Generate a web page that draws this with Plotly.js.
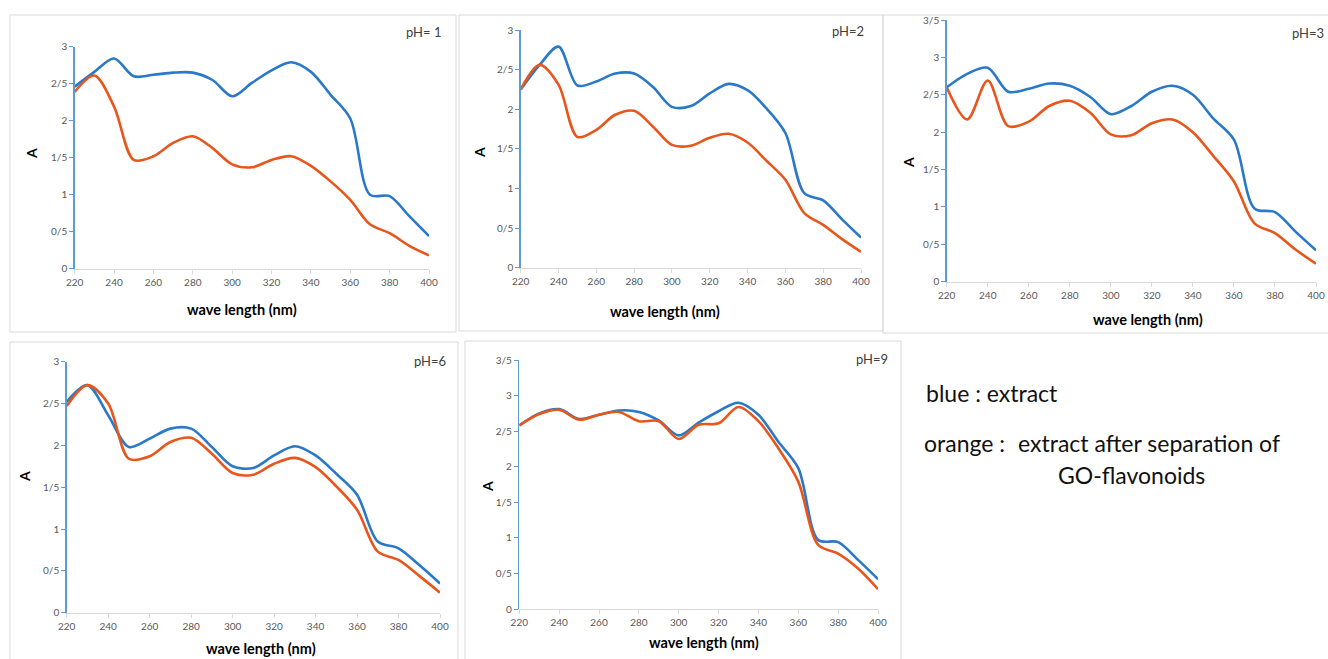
<!DOCTYPE html>
<html>
<head>
<meta charset="utf-8">
<script src="https://cdn.plot.ly/plotly-3.0.1.min.js"></script>
<style>html,body{margin:0;padding:0;background:#fff;}#chart{width:1328px;height:659px;}</style>
</head>
<body>
<div id="chart"></div>
<script>
// ---- data ----
const wavelength = [220,230,240,250,260,270,280,290,300,310,320,330,340,350,360,370,380,390,400];

const ph1Extract   = [2.46,2.66,2.84,2.60,2.62,2.65,2.65,2.55,2.33,2.51,2.68,2.79,2.66,2.35,2.03,1.00,0.98,0.71,0.44];
const ph1Separated = [2.39,2.61,2.19,1.47,1.52,1.70,1.79,1.63,1.41,1.37,1.47,1.52,1.39,1.18,0.93,0.60,0.48,0.31,0.18];

const ph2Extract   = [2.25,2.56,2.79,2.30,2.35,2.45,2.45,2.28,2.03,2.04,2.20,2.32,2.24,2.01,1.70,0.94,0.85,0.61,0.38];
const ph2Separated = [2.25,2.56,2.31,1.65,1.74,1.93,1.98,1.78,1.55,1.54,1.64,1.69,1.58,1.35,1.11,0.69,0.54,0.36,0.20];

const ph3Extract   = [2.60,2.78,2.86,2.54,2.58,2.65,2.62,2.47,2.24,2.35,2.54,2.62,2.50,2.18,1.90,0.98,0.93,0.67,0.42];
const ph3Separated = [2.60,2.17,2.69,2.08,2.14,2.35,2.42,2.26,1.97,1.96,2.12,2.17,2.00,1.68,1.34,0.78,0.65,0.43,0.24];

const ph6Extract   = [2.52,2.72,2.36,1.98,2.08,2.20,2.20,1.98,1.75,1.73,1.88,1.99,1.88,1.66,1.41,0.85,0.77,0.57,0.35];
const ph6Separated = [2.47,2.72,2.50,1.84,1.87,2.04,2.09,1.90,1.67,1.65,1.78,1.85,1.74,1.51,1.23,0.73,0.63,0.44,0.24];

const ph9Extract   = [2.58,2.75,2.81,2.67,2.73,2.79,2.77,2.65,2.44,2.62,2.78,2.90,2.73,2.35,1.98,0.97,0.94,0.69,0.42];
const ph9Separated = [2.58,2.74,2.80,2.66,2.73,2.77,2.64,2.64,2.39,2.59,2.61,2.84,2.64,2.26,1.79,0.90,0.78,0.57,0.28];

const xTickVals = [220,240,260,280,300,320,340,360,380,400];
const yTickVals = [0,0.5,1,1.5,2,2.5,3,3.5];
const yTickText = ['0','0/5','1','1/5','2','2/5','3','3/5'];

const panelLabels = ['pH= 1','pH=2','pH=3','pH=6','pH=9'];
const xTitle = 'wave length (nm)';
const yTitle = 'A';
const legendBlue = 'blue : extract';
const legendOrange = 'orange :';
const legendOrange2 = 'extract after separation of';
const legendOrange3 = 'GO-flavonoids';

// ---- layout helpers ----
const W = 1328, H = 659;
const px = v => v / W;
const py = v => 1 - v / H;

const BLUE = '#2a78c8', ORANGE = '#e8561c', AXISBLUE = '#5b9bd5';

const panels = [
  {ext: ph1Extract, sep: ph1Separated, x0: 74.7, x1: 429, y0: 268.7, y1: 46.7, ymax: 3,
   box: [10, 15, 456, 332], xt: [242, 310], yt: [32, 154], lab: [443, 32, 'right']},
  {ext: ph2Extract, sep: ph2Separated, x0: 520.7, x1: 861, y0: 267.7, y1: 30, ymax: 3,
   box: [459, 15, 883, 331], xt: [665, 312], yt: [480, 153], lab: [866, 31, 'right']},
  {ext: ph3Extract, sep: ph3Separated, x0: 946.7, x1: 1316, y0: 281.7, y1: 20, ymax: 3.5,
   box: [883, 15, 1345, 333], xt: [1148, 319], yt: [909, 163], lab: [1326, 33, 'right']},
  {ext: ph6Extract, sep: ph6Separated, x0: 66.7, x1: 440, y0: 612.7, y1: 361.7, ymax: 3,
   box: [10, 342, 458, 670], xt: [261, 648], yt: [24, 477], lab: [448, 361, 'right']},
  {ext: ph9Extract, sep: ph9Separated, x0: 519.3, x1: 878, y0: 609, y1: 360, ymax: 3.5,
   box: [465, 341, 901, 670], xt: [704, 642], yt: [488, 487], lab: [890, 359, 'right']}
];

const data = [];
const layout = {
  width: W, height: H,
  margin: {l: 0, r: 0, t: 0, b: 0},
  paper_bgcolor: '#ffffff', plot_bgcolor: '#ffffff',
  showlegend: false,
  shapes: [], annotations: []
};

panels.forEach((p, i) => {
  const n = i + 1;
  const xa = n === 1 ? 'x' : 'x' + n;
  const ya = n === 1 ? 'y' : 'y' + n;
  const xk = n === 1 ? 'xaxis' : 'xaxis' + n;
  const yk = n === 1 ? 'yaxis' : 'yaxis' + n;

  data.push({x: wavelength, y: p.ext, xaxis: xa, yaxis: ya, type: 'scatter', mode: 'lines',
    line: {color: BLUE, width: 2.6, shape: 'spline', smoothing: 0.9}, hoverinfo: 'skip'});
  data.push({x: wavelength, y: p.sep, xaxis: xa, yaxis: ya, type: 'scatter', mode: 'lines',
    line: {color: ORANGE, width: 2.6, shape: 'spline', smoothing: 0.9}, hoverinfo: 'skip'});

  const nt = p.ymax === 3 ? 7 : 8;
  layout[xk] = {
    domain: [px(p.x0), px(p.x1)], anchor: ya, range: [220, 400],
    tickvals: xTickVals, ticktext: xTickVals.map(String),
    showgrid: false, zeroline: false, showline: true, linecolor: '#d9d9d9', linewidth: 1,
    ticks: 'outside', ticklen: 4, tickcolor: '#d9d9d9', ticklabeloverflow: 'allow',
    tickfont: {family: 'Lato, sans-serif', size: 10, color: '#595959'}, fixedrange: true
  };
  layout[yk] = {
    domain: [py(p.y0), py(p.y1)], anchor: xa, range: [0, p.ymax],
    tickvals: yTickVals.slice(0, nt), ticktext: yTickText.slice(0, nt),
    showgrid: false, zeroline: false, showline: true, linecolor: AXISBLUE, linewidth: 1.5,
    ticks: 'outside', ticklen: 4, tickcolor: AXISBLUE,
    tickfont: {family: 'Lato, sans-serif', size: 10, color: '#595959'}, fixedrange: true
  };

  layout.shapes.push({type: 'rect', xref: 'paper', yref: 'paper',
    x0: px(p.box[0]), x1: px(p.box[2]), y0: py(p.box[3]), y1: py(p.box[1]),
    line: {color: '#d9d9d9', width: 1}, fillcolor: 'rgba(0,0,0,0)', layer: 'below'});

  layout.annotations.push({xref: 'paper', yref: 'paper', x: px(p.xt[0]), y: py(p.xt[1]),
    text: '<b>' + xTitle + '</b>', showarrow: false, xanchor: 'center', yanchor: 'middle',
    font: {family: 'Lato, sans-serif', size: 14.5, color: '#000000'}});
  layout.annotations.push({xref: 'paper', yref: 'paper', x: px(p.yt[0]), y: py(p.yt[1]),
    text: '<b>' + yTitle + '</b>', showarrow: false, textangle: -90, xanchor: 'center', yanchor: 'middle',
    font: {family: 'Lato, sans-serif', size: 14, color: '#000000'}});
  layout.annotations.push({xref: 'paper', yref: 'paper', x: px(p.lab[0]), y: py(p.lab[1]),
    text: panelLabels[i], showarrow: false, xanchor: p.lab[2], yanchor: 'middle',
    font: {family: 'Lato, sans-serif', size: 13, color: '#404040'}});
});

const legFont = {family: 'Lato, sans-serif', size: 23, color: '#111111'};
layout.annotations.push({xref: 'paper', yref: 'paper', x: px(924), y: py(393), text: legendBlue,
  showarrow: false, xanchor: 'left', yanchor: 'middle', font: legFont});
layout.annotations.push({xref: 'paper', yref: 'paper', x: px(922), y: py(443), text: legendOrange,
  showarrow: false, xanchor: 'left', yanchor: 'middle', font: legFont});
layout.annotations.push({xref: 'paper', yref: 'paper', x: px(1016), y: py(443), text: legendOrange2,
  showarrow: false, xanchor: 'left', yanchor: 'middle', font: legFont});
layout.annotations.push({xref: 'paper', yref: 'paper', x: px(1056), y: py(475), text: legendOrange3,
  showarrow: false, xanchor: 'left', yanchor: 'middle', font: legFont});

Plotly.newPlot('chart', data, layout, {staticPlot: true, displayModeBar: false});
</script>
</body>
</html>
